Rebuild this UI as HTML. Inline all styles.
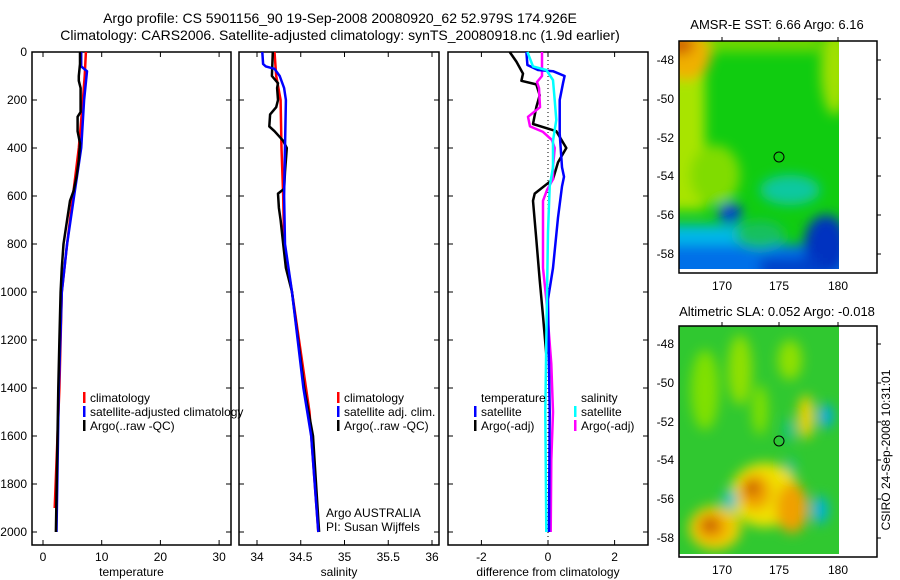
<!DOCTYPE html>
<html><head><meta charset="utf-8"><style>
html,body{margin:0;padding:0;background:#fff;}
svg{display:block;font-family:"Liberation Sans",sans-serif;}
text{font-size:12px;fill:#000;}
</style></head><body>
<svg id="fig" width="900" height="580" viewBox="0 0 900 580">
<defs>
<filter id="blur" filterUnits="userSpaceOnUse" x="600" y="0" width="300" height="580"><feGaussianBlur stdDeviation="6"/></filter>
<clipPath id="clip1"><rect x="679" y="41" width="160" height="228"/></clipPath>
<clipPath id="clip2"><rect x="679" y="326" width="160" height="228"/></clipPath>
</defs>
<text x="340" y="23" text-anchor="middle" style="font-size:14px">Argo profile: CS 5901156_90 19-Sep-2008 20080920_62 52.979S 174.926E</text>
<text x="340" y="40" text-anchor="middle" style="font-size:14px">Climatology: CARS2006. Satellite-adjusted climatology: synTS_20080918.nc (1.9d earlier)</text>

<g id="panels"></g>

<!-- SST map -->
<g>
<text x="777" y="29" text-anchor="middle" style="font-size:13px">AMSR-E SST: 6.66 Argo: 6.16</text>
<g clip-path="url(#clip1)">
<rect x="679" y="41" width="160" height="228" fill="#10cc10"/>
<g filter="url(#blur)">
<rect x="660" y="30" width="45" height="180" fill="#a8e400"/>
<rect x="700" y="30" width="120" height="22" fill="#70d800"/>
<ellipse cx="835" cy="70" rx="14" ry="45" fill="#a0e000"/>
<ellipse cx="715" cy="175" rx="25" ry="30" fill="#80dc00"/>
<ellipse cx="686" cy="55" rx="25" ry="25" fill="#f0b000"/>
<ellipse cx="680" cy="45" rx="14" ry="10" fill="#d06000"/>
<ellipse cx="790" cy="190" rx="30" ry="15" fill="#10c8a0"/>
<rect x="660" y="225" width="80" height="60" fill="#00b8e8"/>
<rect x="660" y="245" width="190" height="40" fill="#0070e8"/>
<ellipse cx="730" cy="213" rx="12" ry="10" fill="#0040d0"/>
<ellipse cx="826" cy="245" rx="22" ry="30" fill="#0030c0"/>
<ellipse cx="760" cy="235" rx="25" ry="14" fill="#18c060"/>
<rect x="760" y="258" width="60" height="20" fill="#0040c8"/>
</g>
</g>
<rect x="679" y="41" width="198" height="232" fill="none" stroke="#000" stroke-width="1.5"/>
<circle cx="779" cy="157" r="5" fill="none" stroke="#000"/>
<g stroke="#000"><line x1="722" x2="722" y1="41" y2="37"/><line x1="779" x2="779" y1="41" y2="37"/><line x1="838" x2="838" y1="41" y2="37"/>
<line x1="877" x2="881" y1="60" y2="60"/><line x1="877" x2="881" y1="99" y2="99"/><line x1="877" x2="881" y1="138" y2="138"/><line x1="877" x2="881" y1="176" y2="176"/><line x1="877" x2="881" y1="215" y2="215"/><line x1="877" x2="881" y1="254" y2="254"/></g>
<text x="722" y="290" text-anchor="middle">170</text><text x="779" y="290" text-anchor="middle">175</text><text x="838" y="290" text-anchor="middle">180</text>
<text x="674" y="64" text-anchor="end">-48</text><text x="674" y="103" text-anchor="end">-50</text><text x="674" y="142" text-anchor="end">-52</text>
<text x="674" y="180" text-anchor="end">-54</text><text x="674" y="219" text-anchor="end">-56</text><text x="674" y="258" text-anchor="end">-58</text>
</g>

<!-- SLA map -->
<g>
<text x="777" y="316" text-anchor="middle" style="font-size:13px">Altimetric SLA: 0.052 Argo: -0.018</text>
<g clip-path="url(#clip2)">
<rect x="679" y="326" width="160" height="228" fill="#30c830"/>
<g filter="url(#blur)">
<ellipse cx="705" cy="390" rx="14" ry="40" fill="#80e000"/>
<ellipse cx="740" cy="370" rx="12" ry="35" fill="#90e000"/>
<ellipse cx="790" cy="360" rx="12" ry="20" fill="#90e000"/>
<ellipse cx="760" cy="410" rx="8" ry="25" fill="#80e000"/>
<ellipse cx="806" cy="417" rx="8" ry="22" fill="#f0d000"/>
<ellipse cx="826" cy="416" rx="7" ry="12" fill="#00a8f0"/>
<ellipse cx="790" cy="430" rx="5" ry="12" fill="#10c0a0"/>
<ellipse cx="790" cy="470" rx="5" ry="12" fill="#10c0a0"/>
<ellipse cx="765" cy="495" rx="35" ry="32" fill="#f0e000"/>
<ellipse cx="755" cy="492" rx="16" ry="18" fill="#f0a000"/>
<ellipse cx="792" cy="508" rx="16" ry="25" fill="#f0a000"/>
<ellipse cx="715" cy="528" rx="26" ry="22" fill="#f0d000"/>
<ellipse cx="712" cy="527" rx="16" ry="14" fill="#f0a000"/>
<ellipse cx="710" cy="525" rx="8" ry="7" fill="#c05000"/>
<ellipse cx="752" cy="488" rx="7" ry="7" fill="#c05000"/>
<ellipse cx="730" cy="500" rx="7" ry="10" fill="#00c0d0"/>
<ellipse cx="820" cy="510" rx="8" ry="14" fill="#00b0e0"/>
</g>
</g>
<rect x="679" y="326" width="198" height="231" fill="none" stroke="#000" stroke-width="1.5"/>
<circle cx="779" cy="441" r="5" fill="none" stroke="#000"/>
<g stroke="#000"><line x1="722" x2="722" y1="326" y2="322"/><line x1="779" x2="779" y1="326" y2="322"/><line x1="838" x2="838" y1="326" y2="322"/>
<line x1="877" x2="881" y1="344" y2="344"/><line x1="877" x2="881" y1="383" y2="383"/><line x1="877" x2="881" y1="422" y2="422"/><line x1="877" x2="881" y1="460" y2="460"/><line x1="877" x2="881" y1="499" y2="499"/><line x1="877" x2="881" y1="538" y2="538"/></g>
<text x="722" y="574" text-anchor="middle">170</text><text x="779" y="574" text-anchor="middle">175</text><text x="838" y="574" text-anchor="middle">180</text>
<text x="674" y="348" text-anchor="end">-48</text><text x="674" y="387" text-anchor="end">-50</text><text x="674" y="426" text-anchor="end">-52</text>
<text x="674" y="464" text-anchor="end">-54</text><text x="674" y="503" text-anchor="end">-56</text><text x="674" y="542" text-anchor="end">-58</text>
</g>
<text transform="translate(890,450) rotate(-90)" text-anchor="middle">CSIRO 24-Sep-2008 10:31:01</text>
</svg>
<script>
// ---- data ----
const depthTicks = [0,200,400,600,800,1000,1200,1400,1600,1800,2000];
const tempTicks = [0,10,20,30];
const salTicks = [34,34.5,35,35.5,36];
const salTickLabels = ["34","34.5","35","35.5","36"];
const diffTicks = [-2,0,2];
const tempClimDepth = [0,100,200,400,600,800,1000,1400,1900];
const tempClimValue = [7.3,7.1,6.8,6.1,5.1,4.1,3.2,2.8,2.0];
const tempSatDepth = [0,60,80,200,400,600,800,1000,1400,2000];
const tempSatValue = [6.5,6.5,7.5,7.0,6.5,5.3,4.1,3.2,2.7,2.3];
const tempArgoDepth = [0,50,100,120,150,250,270,330,380,450,520,580,620,700,800,900,1000,1200,1400,1700,2000];
const tempArgoValue = [6.3,6.3,6.1,6.1,6.4,6.4,5.9,5.9,6.3,6.1,5.7,5.2,4.6,4.1,3.5,3.2,3.0,2.8,2.6,2.4,2.2];
const salClimDepth = [0,100,200,400,600,800,1000,1500,2000];
const salClimValue = [34.2,34.22,34.27,34.28,34.3,34.31,34.4,34.6,34.7];
const salSatDepth = [0,50,60,70,100,150,200,400,600,800,1000,1400,1600,2000];
const salSatValue = [34.06,34.07,34.1,34.2,34.26,34.31,34.33,34.32,34.31,34.32,34.4,34.53,34.62,34.7];
const salArgoDepth = [0,100,130,150,200,230,260,310,330,370,400,500,570,590,650,700,800,900,1000,1400,1600,2000];
const salArgoValue = [34.18,34.17,34.24,34.23,34.24,34.22,34.15,34.14,34.2,34.3,34.34,34.32,34.31,34.24,34.25,34.27,34.3,34.33,34.4,34.54,34.64,34.71];
const dTempSatDepth = [0,54,75,80,100,130,200,340,480,520,560,690,900,1030,1500,2000];
const dTempSatValue = [-0.65,-0.62,-0.3,0.15,0.5,0.45,0.35,0.35,0.42,0.48,0.42,0.3,0.15,0,0.05,0.03];
const dTempArgoDepth = [0,40,90,120,135,180,230,300,330,400,460,530,590,620,780,950,1100,1260];
const dTempArgoValue = [-1.15,-0.95,-0.75,-0.8,-0.35,-0.25,-0.35,-0.45,0.25,0.55,0.3,0.15,-0.4,-0.45,-0.35,-0.25,-0.15,-0.05];
const dSalSatDepth = [0,60,75,117,200,283,370,480,560,750,1200,1500,2000];
const dSalSatValue = [-0.62,-0.45,-0.05,0.15,0.2,0.25,0.15,0.15,0.05,0,-0.05,-0.08,-0.05];
const dSalArgoDepth = [0,100,125,150,230,270,310,333,367,400,480,530,575,620,900,1030,1300,1500,1700,2000];
const dSalArgoValue = [-0.18,-0.18,-0.33,-0.27,-0.24,-0.6,-0.54,-0.15,0.12,0.2,0.15,0.15,-0.03,-0.15,-0.15,-0.05,0.1,0.15,0.1,0.08];

// ---- drawing ----
const NS='http://www.w3.org/2000/svg';
const root=document.getElementById('panels');
const yOf=d=>52+d*0.24;
function mk(tag,at,parent){const e=document.createElementNS(NS,tag);for(const k in at)e.setAttribute(k,at[k]);(parent||root).appendChild(e);return e;}
function panel(name,x0,x1,xf,ticks,labels,xlabel,showY){
  const g=mk('g',{});
  
  
  mk('rect',{x:x0,y:52,width:x1-x0,height:493,fill:'none',stroke:'#000','stroke-width':1.5},g);
  depthTicks.forEach(d=>{const y=yOf(d);
    mk('line',{x1:x0,x2:x0+5,y1:y,y2:y,stroke:'#000'},g);
    mk('line',{x1:x1-5,x2:x1,y1:y,y2:y,stroke:'#000'},g);
    if(showY){const t=mk('text',{x:27,y:y+4,'text-anchor':'end'},g);t.textContent=d;}
  });
  ticks.forEach((v,i)=>{const x=xf(v);
    mk('line',{x1:x,x2:x,y1:52,y2:57,stroke:'#000'},g);
    mk('line',{x1:x,x2:x,y1:540,y2:545,stroke:'#000'},g);
    const t=mk('text',{x:x,y:561,'text-anchor':'middle'},g);t.textContent=labels[i];
  });
  const t=mk('text',{x:(x0+x1)/2,y:576,'text-anchor':'middle'},g);t.textContent=xlabel;
  return g;
}
function line(g,name,depths,vals,xf,color){
  const pts=depths.map((d,i)=>xf(vals[i]).toFixed(1)+','+yOf(d).toFixed(1)).join(' ');
  const p=mk('polyline',{points:pts,fill:'none',stroke:color,'stroke-width':2.5,'stroke-linejoin':'round'},g);
  
  
}
function legend(g,x,y,color,label){
  if(color)mk('rect',{x:x,y:y-10,width:2.5,height:11,fill:color},g);
  const t=mk('text',{x:x+7,y:y},g);t.textContent=label;
}
const xT=v=>43+5.87*v, xS=v=>257+87.5*(v-34), xD=v=>548+33.3*v;
const g1=panel('temperature-panel',32,231,xT,tempTicks,tempTicks.map(String),'temperature',true);
line(g1,'temp-climatology-line',tempClimDepth,tempClimValue,xT,'#f00');
line(g1,'temp-satellite-line',tempSatDepth,tempSatValue,xT,'#00f');
line(g1,'temp-argo-line',tempArgoDepth,tempArgoValue,xT,'#000');
legend(g1,83,402,'#f00','climatology');legend(g1,83,416,'#00f','satellite-adjusted climatology');legend(g1,83,430,'#000','Argo(..raw -QC)');
const g2=panel('salinity-panel',239,439,xS,salTicks,salTickLabels,'salinity',false);
line(g2,'sal-climatology-line',salClimDepth,salClimValue,xS,'#f00');
line(g2,'sal-argo-line',salArgoDepth,salArgoValue,xS,'#000');
line(g2,'sal-satellite-line',salSatDepth,salSatValue,xS,'#00f');
legend(g2,337,402,'#f00','climatology');legend(g2,337,416,'#00f','satellite adj. clim.');legend(g2,337,430,'#000','Argo(..raw -QC)');
let t=mk('text',{x:326,y:517},g2);t.textContent='Argo AUSTRALIA';
t=mk('text',{x:326,y:531},g2);t.textContent='PI: Susan Wijffels';
const g3=panel('difference-panel',448,648,xD,diffTicks,diffTicks.map(String),'difference from climatology',false);
mk('line',{x1:xD(0),x2:xD(0),y1:52,y2:545,stroke:'#000','stroke-dasharray':'1,3'},g3);
line(g3,'temp-diff-argo-line',dTempArgoDepth,dTempArgoValue,xD,'#000');
line(g3,'sal-diff-argo-line',dSalArgoDepth,dSalArgoValue,xD,'#f0f');
line(g3,'temp-diff-satellite-line',dTempSatDepth,dTempSatValue,xD,'#00f');
line(g3,'sal-diff-satellite-line',dSalSatDepth,dSalSatValue,xD,'#0ff');
legend(g3,474,402,null,'temperature');legend(g3,474,416,'#00f','satellite');legend(g3,474,430,'#000','Argo(-adj)');
legend(g3,574,402,null,'salinity');legend(g3,574,416,'#0ff','satellite');legend(g3,574,430,'#f0f','Argo(-adj)');
</script>
</body></html>
